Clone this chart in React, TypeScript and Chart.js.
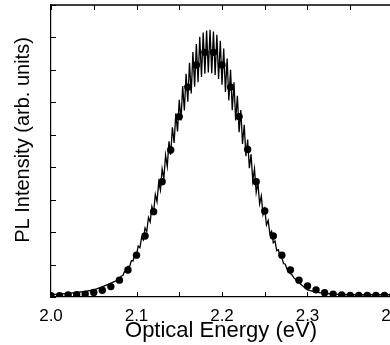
import React, { useEffect, useRef } from "react";
import { Chart, registerables } from "chart.js";

Chart.register(...registerables);

// Measured data points (circles)
const dotX = [
  2.0, 2.01, 2.02, 2.03, 2.04, 2.05, 2.06, 2.07, 2.08, 2.09,
  2.1, 2.11, 2.12, 2.13, 2.14, 2.15, 2.16, 2.17, 2.18, 2.19,
  2.2, 2.21, 2.22, 2.23, 2.24, 2.25, 2.26, 2.27, 2.28, 2.29,
  2.3, 2.31, 2.32, 2.33, 2.34, 2.35, 2.36, 2.37, 2.38, 2.39, 2.4,
];
const dotY = [
  0.04, 0.04, 0.06, 0.07, 0.09, 0.14, 0.21, 0.32, 0.52, 0.83,
  1.29, 1.88, 2.63, 3.55, 4.53, 5.56, 6.47, 7.15, 7.54, 7.54,
  7.15, 6.47, 5.56, 4.55, 3.55, 2.65, 1.88, 1.29, 0.83, 0.52,
  0.34, 0.22, 0.13, 0.09, 0.06, 0.05, 0.05, 0.05, 0.05, 0.05, 0.05,
];

// Noisy PL spectrum (solid line)
const lineX = [
  2.0, 2.01, 2.02, 2.03, 2.04, 2.05, 2.06, 2.07,
  2.080, 2.082, 2.084, 2.086, 2.088, 2.090, 2.092, 2.094, 2.096, 2.098,
  2.100, 2.102, 2.104, 2.106, 2.108, 2.110, 2.112, 2.114, 2.116, 2.118,
  2.120, 2.122, 2.124, 2.126, 2.128, 2.130, 2.132, 2.134, 2.136, 2.138,
  2.140, 2.142, 2.144, 2.146, 2.148, 2.150, 2.152, 2.154, 2.156, 2.158,
  2.160, 2.162, 2.164, 2.166, 2.168, 2.170, 2.172, 2.174, 2.176, 2.178,
  2.180, 2.182, 2.184, 2.186, 2.188, 2.190, 2.192, 2.194, 2.196, 2.198,
  2.200, 2.202, 2.204, 2.206, 2.208, 2.210, 2.212, 2.214, 2.216, 2.218,
  2.220, 2.222, 2.224, 2.226, 2.228, 2.230, 2.232, 2.234, 2.236, 2.238,
  2.240, 2.242, 2.244, 2.246, 2.248, 2.250, 2.252, 2.254, 2.256, 2.258,
  2.260, 2.262, 2.264, 2.266, 2.268, 2.270, 2.272, 2.274, 2.276, 2.278,
  2.280, 2.282, 2.284, 2.286, 2.288, 2.290,
  2.3, 2.31, 2.32, 2.33, 2.34, 2.35, 2.36, 2.37, 2.38, 2.39, 2.4, 2.41, 2.42,
];
const lineY = [
  0.08, 0.09, 0.11, 0.14, 0.17, 0.22, 0.31, 0.43,
  0.54, 0.64, 0.66, 0.78, 0.79, 0.94, 0.94, 1.12, 1.11, 1.34,
  1.30, 1.57, 1.52, 1.84, 1.76, 2.13, 2.02, 2.45, 2.31, 2.79,
  2.61, 3.16, 2.94, 3.54, 3.29, 3.95, 3.65, 4.37, 4.02, 4.80,
  4.39, 5.23, 4.75, 5.66, 5.10, 6.08, 5.44, 6.50, 5.75, 6.88,
  6.02, 7.22, 6.27, 7.55, 6.48, 7.80, 6.62, 8.02, 6.78, 8.15,
  6.88, 8.21, 6.92, 8.24, 6.90, 8.18, 6.84, 8.08, 6.72, 7.90,
  6.54, 7.66, 6.32, 7.35, 6.06, 7.00, 5.76, 6.62, 5.44, 6.20,
  5.08, 5.76, 4.72, 5.31, 4.34, 4.85, 3.97, 4.40, 3.58, 3.95,
  3.22, 3.52, 2.87, 3.11, 2.54, 2.72, 2.22, 2.36, 1.94, 2.03,
  1.67, 1.73, 1.43, 1.46, 1.22, 1.22, 1.03, 1.01, 0.86, 0.83,
  0.72, 0.68, 0.59, 0.55, 0.48, 0.44,
  0.22, 0.15, 0.11, 0.09, 0.08, 0.07, 0.07, 0.07, 0.07, 0.07, 0.07, 0.07, 0.07,
];

const xTickMarks = [2.0, 2.05, 2.1, 2.15, 2.2, 2.25, 2.3, 2.35, 2.4];
const yTickMarks = [0, 1, 2, 3, 4, 5, 6, 7, 8, 9];

const xTitle = "Optical Energy (eV)";
const yTitle = "PL Intensity (arb. units)";
const FONT = "'Liberation Sans', Arial, Helvetica, sans-serif";

const framePlugin = {
  id: "frameTicks",
  afterDraw(chart: any) {
    const { ctx, chartArea } = chart;
    const { left, right, top, bottom } = chartArea;
    const xs = chart.scales.x;
    const ys = chart.scales.y;
    ctx.save();
    ctx.strokeStyle = "#000";
    ctx.lineWidth = 1.4;
    ctx.beginPath();
    ctx.moveTo(left, top);
    ctx.lineTo(right, top);
    ctx.lineTo(right, bottom);
    ctx.stroke();
    ctx.lineWidth = 1;
    ctx.beginPath();
    for (const v of xTickMarks) {
      const px = Math.round(xs.getPixelForValue(v)) + 0.5;
      ctx.moveTo(px, bottom);
      ctx.lineTo(px, bottom - 5);
      ctx.moveTo(px, top);
      ctx.lineTo(px, top + 5);
    }
    for (const v of yTickMarks) {
      const py = Math.round(ys.getPixelForValue(v)) + 0.5;
      ctx.moveTo(left, py);
      ctx.lineTo(left + 5, py);
    }
    ctx.stroke();

    ctx.fillStyle = "#000";
    ctx.textAlign = "center";
    ctx.textBaseline = "alphabetic";
    ctx.font = `22px ${FONT}`;
    ctx.fillText(xTitle, (left + right) / 2 - 1, 337);

    ctx.translate(29, 140);
    ctx.rotate(-Math.PI / 2);
    ctx.font = `20px ${FONT}`;
    ctx.fillText(yTitle, 0, 0);
    ctx.restore();
  },
};

export default function App() {
  const ref = useRef<HTMLCanvasElement | null>(null);
  useEffect(() => {
    if (!ref.current) return;
    const chart = new Chart(ref.current, {
      type: "scatter",
      data: {
        datasets: [
          {
            data: dotX.map((x, i) => ({ x, y: dotY[i] })),
            pointRadius: 3.7,
            pointBackgroundColor: "#000",
            pointBorderColor: "#000",
            pointBorderWidth: 0,
            showLine: false,
            order: 2,
          },
          {
            data: lineX.map((x, i) => ({ x, y: lineY[i] })),
            showLine: true,
            borderColor: "#000",
            borderWidth: 1.3,
            pointRadius: 0,
            tension: 0,
            order: 1,
          },
        ],
      },
      options: {
        responsive: false,
        animation: false,
        events: [],
        layout: { padding: { top: 5, right: 47, left: 0, bottom: 0 } },
        plugins: { legend: { display: false }, tooltip: { enabled: false } },
        scales: {
          x: {
            type: "linear",
            min: 2.0,
            max: 2.4,
            grid: { display: false, drawTicks: false },
            border: { display: true, color: "#000", width: 1.2 },
            ticks: {
              stepSize: 0.1,
              autoSkip: false,
              maxRotation: 0,
              padding: 9,
              color: "#000",
              font: { family: FONT, size: 17 },
              callback: (v: any) => Number(v).toFixed(1),
            },
            afterFit: (s: any) => {
              s.height = 48;
            },
          },
          y: {
            min: 0,
            max: 9,
            grid: { display: false, drawTicks: false },
            border: { display: true, color: "#000", width: 1.2 },
            ticks: { display: false, stepSize: 1 },
            afterFit: (s: any) => {
              s.width = 51;
            },
          },
        },
      },
      plugins: [framePlugin],
    });
    return () => chart.destroy();
  }, []);
  return (
    <div
      style={{
        position: "fixed",
        left: 0,
        top: 0,
        width: 390,
        height: 345,
        overflow: "hidden",
        background: "#fff",
      }}
    >
      <canvas ref={ref} width={440} height={345} style={{ display: "block" }} />
    </div>
  );
}
